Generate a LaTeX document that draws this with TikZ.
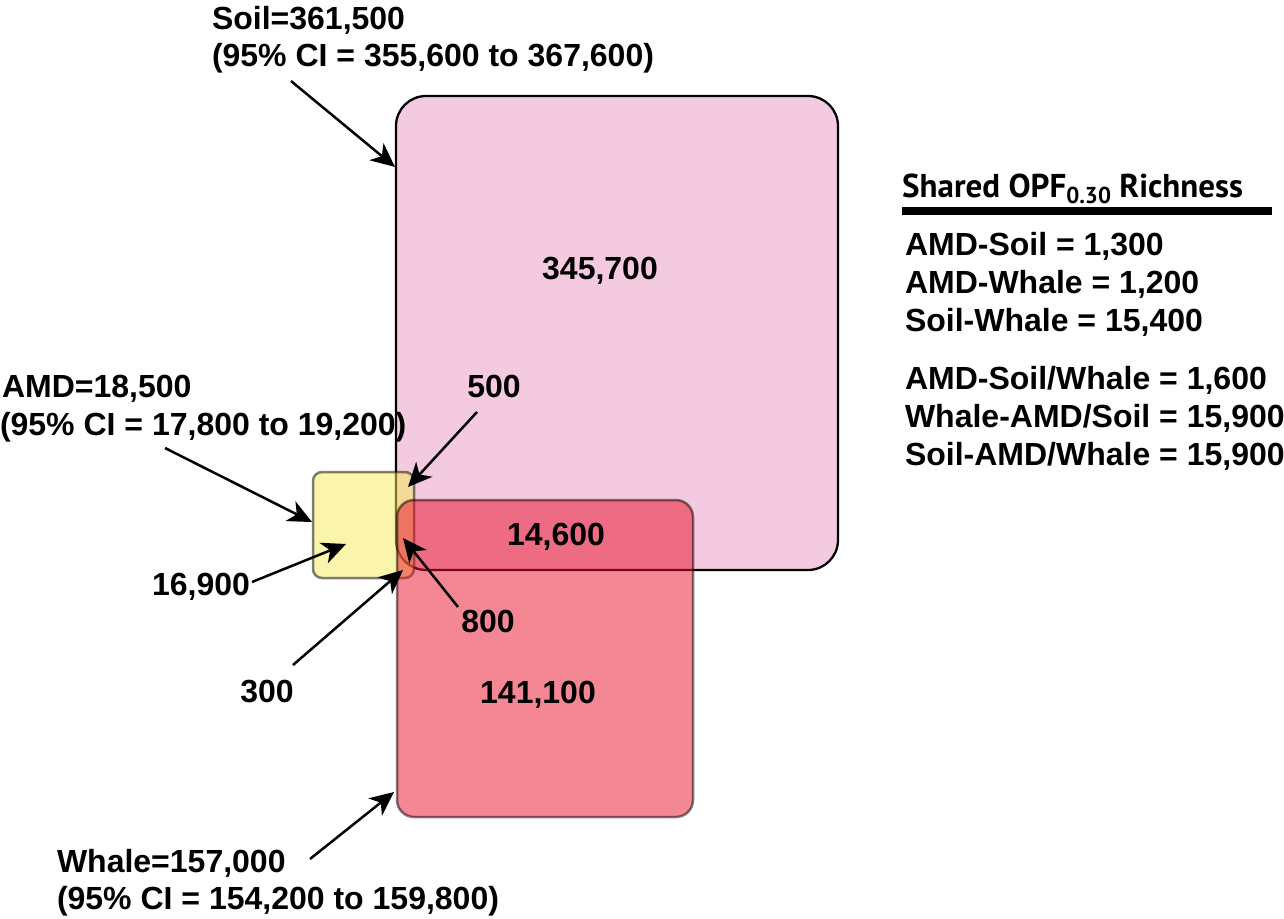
\documentclass[tikz,border=0pt]{standalone}
\usepackage{fontspec}
\setmainfont{Liberation Sans}
\newfontfamily\hdrfont{PT Sans}
\usetikzlibrary{arrows.meta}
\definecolor{soilpink}{RGB}{243,202,223}
\definecolor{amdyellow}{RGB}{245,235,85}
\definecolor{whalered}{RGB}{232,16,40}
\begin{document}
\begin{tikzpicture}[x=1pt,y=-1pt,
  lbl/.style={inner sep=0pt, outer sep=0pt, font=\bfseries\fontsize{32}{37}\selectfont},
  arr/.style={line width=2.5pt, -{Stealth[length=24pt,width=22pt,inset=7pt]}},
  soilbox/.style={draw=black, line width=2.3pt, fill=soilpink, rounded corners=30pt, inner sep=0pt, outer sep=0pt, anchor=north west},
  amdbox/.style={draw=black, draw opacity=0.5, line width=2.5pt, fill=amdyellow, fill opacity=0.5, rounded corners=9pt, inner sep=0pt, outer sep=0pt, anchor=north west},
  whalebox/.style={draw=black, draw opacity=0.5, line width=2.5pt, fill=whalered, fill opacity=0.5, rounded corners=17pt, inner sep=0pt, outer sep=0pt, anchor=north west}]
\useasboundingbox (0,0) rectangle (1284,918);

% boxes
\node[soilbox, minimum width=442pt, minimum height=474pt] (soil) at (396,96) {};
\node[amdbox, minimum width=101pt, minimum height=106pt] (amd) at (313,472) {};
\node[whalebox, minimum width=296pt, minimum height=317pt] (whale) at (397,500) {};

% set labels
\node[lbl, anchor=base west] (soilname) at (212,29) {Soil=361,500};
\node[lbl, anchor=base west] (soilci) at (212,66) {(95\% CI = 355,600 to 367,600)};
\node[lbl, anchor=base west] (amdname) at (2,397) {AMD=18,500};
\node[lbl, anchor=base west] (amdci) at (0,435) {(95\% CI = 17,800 to 19,200)};
\node[lbl, anchor=base west] (whalename) at (57,872) {Whale=157,000};
\node[lbl, anchor=base west] (whaleci) at (57,909) {(95\% CI = 154,200 to 159,800)};

% region counts
\node[lbl, anchor=base] (nsoil) at (600,279) {345,700};
\node[lbl, anchor=base] (n500) at (494,397) {500};
\node[lbl, anchor=base] (nsw) at (556,545) {14,600};
\node[lbl, anchor=base] (namd) at (201,595) {16,900};
\node[lbl, anchor=base] (n800) at (488,632) {800};
\node[lbl, anchor=base] (n300) at (267,702) {300};
\node[lbl, anchor=base] (nwhale) at (538,703) {141,100};

% arrow ends
\coordinate (soilS) at (291,81);   \coordinate (soilT) at (395,167);
\coordinate (amdS) at (165,448);   \coordinate (amdT) at (312,522);
\coordinate (whaleS) at (310,859); \coordinate (whaleT) at (394,792);
\coordinate (a500S) at (477,412);  \coordinate (a500T) at (408,487);
\coordinate (a169S) at (252,582);  \coordinate (a169T) at (346,544);
\coordinate (a800S) at (458,607);  \coordinate (a800T) at (403,538);
\coordinate (a300S) at (293,665);  \coordinate (a300T) at (403,570);

\draw[arr] (soilS) -- (soilT);
\draw[arr] (amdS) -- (amdT);
\draw[arr] (whaleS) -- (whaleT);
\draw[arr] (a500S) -- (a500T);
\draw[arr] (a169S) -- (a169T);
\draw[arr] (a800S) -- (a800T);
\draw[arr] (a300S) -- (a300T);

% legend
\node[anchor=base west, inner sep=0pt, font=\hdrfont\bfseries\fontsize{33}{38}\selectfont] (hdr) at (902,197) {Shared OPF\raisebox{-6pt}{\fontsize{23}{26}\selectfont 0.30} Richness};
\fill[black] (902,207) rectangle (1272,215);
\node[lbl, anchor=base west] (l1) at (905,255) {AMD-Soil = 1,300};
\node[lbl, anchor=base west] (l2) at (905,293) {AMD-Whale = 1,200};
\node[lbl, anchor=base west] (l3) at (905,331) {Soil-Whale = 15,400};
\node[lbl, anchor=base west] (l4) at (905,389) {AMD-Soil/Whale = 1,600};
\node[lbl, anchor=base west] (l5) at (905,427) {Whale-AMD/Soil = 15,900};
\node[lbl, anchor=base west] (l6) at (905,465) {Soil-AMD/Whale = 15,900};
\end{tikzpicture}
\end{document}
